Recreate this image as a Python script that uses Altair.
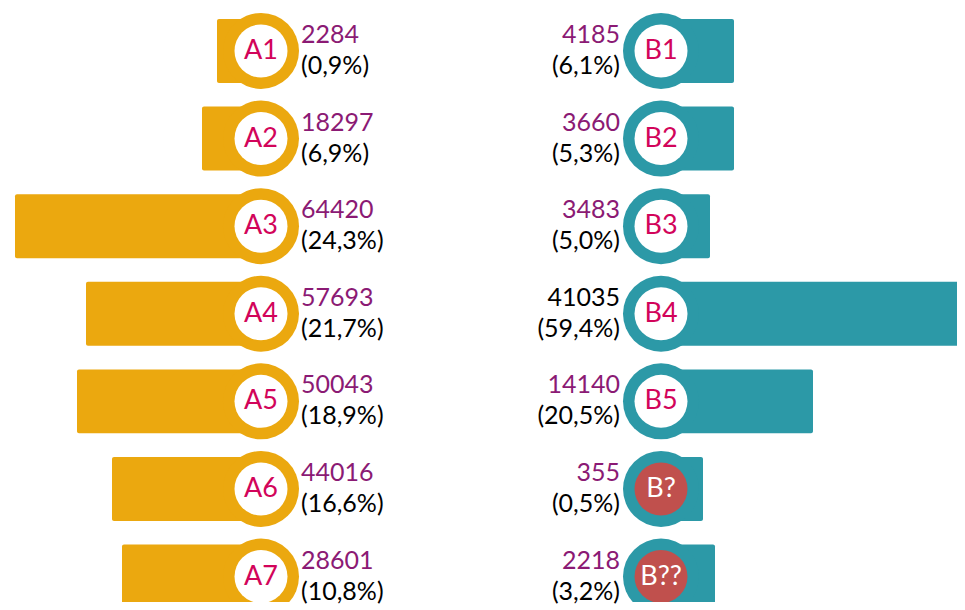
import altair as alt
import pandas as pd

# ---- data ----
a_labels = ["A1", "A2", "A3", "A4", "A5", "A6", "A7"]
a_counts = [2284, 18297, 64420, 57693, 50043, 44016, 28601]
a_pcts = [0.9, 6.9, 24.3, 21.7, 18.9, 16.6, 10.8]
a_bar_len = [44, 59, 246, 175, 184, 149, 139]   # drawn bar length (as in picture)

b_labels = ["B1", "B2", "B3", "B4", "B5", "B?", "B??"]
b_counts = [4185, 3660, 3483, 41035, 14140, 355, 2218]
b_pcts = [6.1, 5.3, 5.0, 59.4, 20.5, 0.5, 3.2]
b_bar_len = [73, 73, 49, 310, 152, 42, 54]      # drawn bar length (as in picture)

ORANGE = "#EBA80F"
TEAL = "#2C99A7"
RED = "#C0504D"
CRIMSON = "#D2045A"
PURPLE = "#8B1A74"
FONT = "Lato"


def make_df(labels, counts, pcts, bars):
    return pd.DataFrame({
        "label": labels,
        "count": [str(c) for c in counts],
        "pct": ["(" + f"{p:.1f}".replace(".", ",") + "%)" for p in pcts],
        "bar": bars,
        "row": list(range(len(labels))),
    })


df_a = make_df(a_labels, a_counts, a_pcts, a_bar_len)
df_b = make_df(b_labels, b_counts, b_pcts, b_bar_len)

yscale = alt.Scale(domain=[-0.49, 6.29], reverse=True, nice=False, zero=False)


def panel(df, side, color, xdomain, width):
    base = alt.Chart(df).transform_calculate(
        zero="0",
        y0="datum.row - 0.365",
        y1="datum.row + 0.365",
        xb=("-datum.bar" if side == "left" else "datum.bar"),
    )
    xs = alt.Scale(domain=xdomain, nice=False, zero=False)
    bars = base.mark_rect(color=color, clip=True, cornerRadius=2).encode(
        x=alt.X("xb:Q", scale=xs, axis=None),
        x2="zero:Q",
        y=alt.Y("y0:Q", scale=yscale, axis=None),
        y2="y1:Q",
    )
    ring = base.mark_circle(color=color, opacity=1, size=5776, clip=True).encode(
        x=alt.X("zero:Q", scale=xs, axis=None),
        y=alt.Y("row:Q", scale=yscale, axis=None),
    )
    inner = base.mark_circle(opacity=1, size=2809, clip=True).encode(
        x=alt.X("zero:Q", scale=xs, axis=None),
        y=alt.Y("row:Q", scale=yscale, axis=None),
        color=alt.condition(
            "indexof(['B?','B??'], datum.label) >= 0",
            alt.value(RED), alt.value("white")),
    )
    lab = base.mark_text(font=FONT, fontSize=27, align="center",
                         baseline="middle", clip=True).encode(
        x=alt.X("zero:Q", scale=xs, axis=None),
        y=alt.Y("row:Q", scale=yscale, axis=None),
        text="label:N",
        color=alt.condition(
            "indexof(['B?','B??'], datum.label) >= 0",
            alt.value("white"), alt.value(CRIMSON)),
    )
    if side == "left":
        align, dx = "left", 40
    else:
        align, dx = "right", -41
    num = base.mark_text(font=FONT, fontSize=25, align=align, baseline="middle",
                         dx=dx, dy=-16).encode(
        x=alt.X("zero:Q", scale=xs, axis=None),
        y=alt.Y("row:Q", scale=yscale, axis=None),
        text="count:N",
        color=alt.condition("datum.label == 'B4'",
                            alt.value("black"), alt.value(PURPLE)),
    )
    pct = base.mark_text(font=FONT, fontSize=25, align=align, baseline="middle",
                         dx=dx, dy=15, color="black").encode(
        x=alt.X("zero:Q", scale=xs, axis=None),
        y=alt.Y("row:Q", scale=yscale, axis=None),
        text="pct:N",
    )
    return alt.layer(bars, ring, inner, lab, num, pct).properties(
        width=width, height=594)


left = panel(df_a, "left", ORANGE, [-253, 200], 453)
right = panel(df_b, "right", TEAL, [-200, 296], 496)

chart = alt.hconcat(left, right, spacing=0, bounds="flush").properties(
    padding=0
).configure_view(stroke=None).resolve_scale(x="independent")

chart.save("out.html", embed_options={"renderer": "svg", "actions": False})
